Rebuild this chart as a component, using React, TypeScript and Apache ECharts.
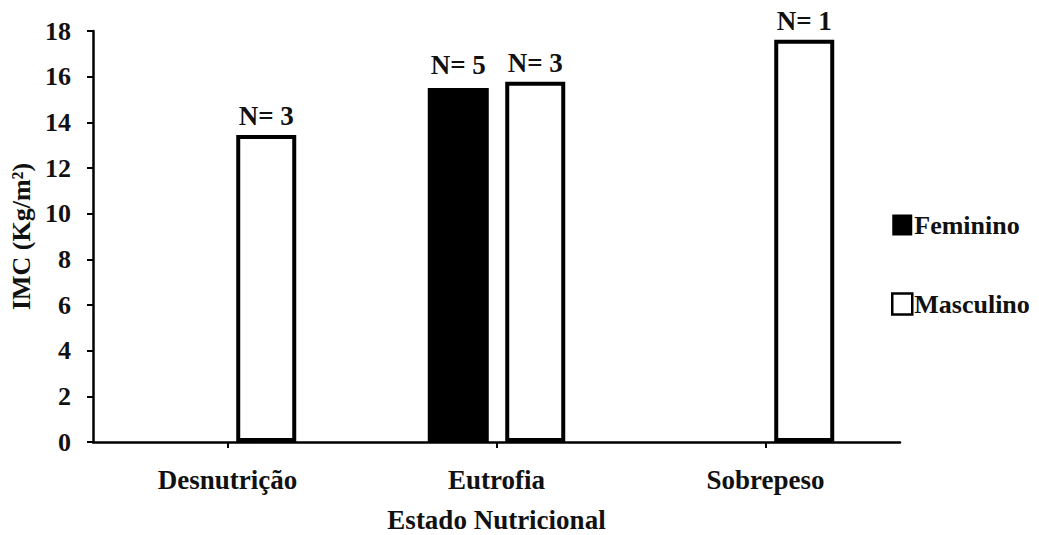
import React, { useEffect, useRef } from "react";
import * as echarts from "echarts";

const categories = ["Desnutrição", "Eutrofia", "Sobrepeso"];
const feminino: (number | null)[] = [null, 15.5, null];
const masculino: (number | null)[] = [13.45, 15.78, 17.62];
const nFeminino: (number | null)[] = [null, 5, null];
const nMasculino: (number | null)[] = [3, 3, 1];
const yTicks = { min: 0, max: 18, interval: 2 };

const FONT = "Liberation Serif";

export default function App() {
  const ref = useRef<HTMLDivElement>(null);
  useEffect(() => {
    if (!ref.current) return;
    const chart = echarts.init(ref.current, null, { renderer: "svg" });
    const txt = (size: number) => ({
      fontFamily: FONT,
      fontWeight: "bold" as const,
      fontSize: size,
      color: "#111",
    });
    chart.setOption({
      animation: false,
      backgroundColor: "#fff",
      textStyle: { fontFamily: FONT, fontWeight: "bold" },
      grid: { left: 93, right: 139, top: 31, bottom: 93, containLabel: false, outerBoundsMode: "none" },
      legend: {
        orient: "vertical",
        left: 886,
        top: 207,
        itemGap: 53,
        itemWidth: 20,
        itemHeight: 21,
        icon: "rect",
        textStyle: { ...txt(26), padding: [0, 0, 0, -3] },
        data: [
          { name: "Feminino", itemStyle: { color: "#000", borderColor: "#000", borderWidth: 0 } },
          { name: "Masculino", itemStyle: { color: "#fff", borderColor: "#000", borderWidth: 2.5 } },
        ],
      },
      xAxis: {
        type: "category",
        data: categories,
        name: "Estado Nutricional",
        nameLocation: "middle",
        nameGap: 64,
        nameTextStyle: txt(27),
        axisLine: { lineStyle: { color: "#000", width: 2.5 } },
        axisTick: { show: true, alignWithLabel: true, length: 6, lineStyle: { color: "#000", width: 2 } },
        axisLabel: { ...txt(27), margin: 24 },
        splitLine: { show: false },
      },
      yAxis: {
        type: "value",
        min: yTicks.min,
        max: yTicks.max,
        interval: yTicks.interval,
        name: "IMC (Kg/m²)",
        nameLocation: "middle",
        nameGap: 58,
        nameRotate: 90,
        nameTextStyle: txt(26),
        axisLine: { show: true, lineStyle: { color: "#000", width: 2.5 } },
        axisTick: { show: true, length: 6, lineStyle: { color: "#000", width: 2 } },
        axisLabel: { ...txt(26), margin: 22 },
        splitLine: { show: false },
      },
      series: [
        {
          name: "Feminino",
          type: "bar",
          data: feminino,
          barWidth: 61,
          barGap: "27%",
          itemStyle: { color: "#000", borderColor: "#000", borderWidth: 0 },
          label: {
            show: true,
            position: "top",
            distance: 10,
            ...txt(27),
            formatter: (p: any) => (nFeminino[p.dataIndex] == null ? "" : `N= ${nFeminino[p.dataIndex]}`),
          },
        },
        {
          name: "Masculino",
          type: "bar",
          data: masculino,
          barWidth: 60,
          barGap: "27%",
          itemStyle: { color: "#fff", borderColor: "#000", borderWidth: 4 },
          label: {
            show: true,
            position: "top",
            distance: 5,
            ...txt(27),
            formatter: (p: any) => (nMasculino[p.dataIndex] == null ? "" : `N= ${nMasculino[p.dataIndex]}`),
          },
        },
      ],
    });
    return () => chart.dispose();
  }, []);
  return <div ref={ref} style={{ position: "absolute", left: 0, top: 0, width: 1039, height: 535 }} />;
}
